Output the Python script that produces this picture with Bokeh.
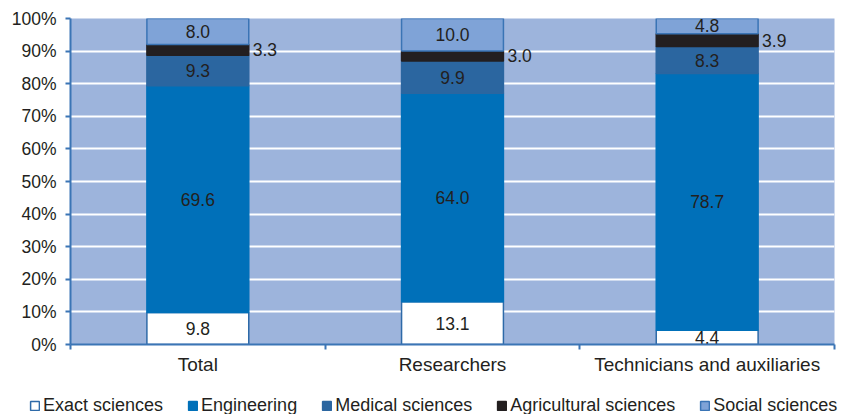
from bokeh.plotting import figure
from bokeh.layouts import column
from bokeh.models import (ColumnDataSource, Range1d, FixedTicker, PrintfTickFormatter,
                          Legend, LegendItem)
from bokeh.core.properties import value
from bokeh.embed import file_html
from bokeh.resources import INLINE

# Staff by field of science, share of each group (%)
categories = ["Total", "Researchers", "Technicians and auxiliaries"]
fields = ["Exact sciences", "Engineering", "Medical sciences",
          "Agricultural sciences", "Social sciences"]
exact = [9.8, 13.1, 4.4]
engineering = [69.6, 64.0, 78.7]
medical = [9.3, 9.9, 8.3]
agricultural = [3.3, 3.0, 3.9]
social = [8.0, 10.0, 4.8]
y_ticks = [0, 10, 20, 30, 40, 50, 60, 70, 80, 90, 100]

series = [exact, engineering, medical, agricultural, social]
keys = ["exact", "engineering", "medical", "agricultural", "social"]
fills = ["#ffffff", "#0070b9", "#2b66a0", "#231f20", "#7fa3d7"]
lines = ["#2e6aa8", "#0070b9", "#2b66a0", "#231f20", "#3a74b5"]

FONT = "Liberation Sans"
TEXT = "#231f20"
AXIS = "#3b75b5"

xs = [i + 0.5 for i in range(len(categories))]
data = {"x": xs}
for k, s in zip(keys, series):
    data[k] = s
src = ColumnDataSource(data)

p = figure(width=841, height=384, output_backend="svg", toolbar_location=None,
           x_range=Range1d(0, len(categories)), y_range=Range1d(0, 100),
           min_border_left=70, min_border_right=7, min_border_top=18,
           min_border_bottom=40)
p.background_fill_color = "#9db4dc"
p.border_fill_color = "white"
p.outline_line_color = None

bar_width = 0.4
renderers = p.vbar_stack(keys, x="x", width=bar_width, source=src,
                         fill_color=fills, line_color=lines, line_width=1.5)

# Value labels: centred inside each segment, agricultural share beside the bar
lx, ly, lt = [], [], []
ax, ay, at = [], [], []
for i, x in enumerate(xs):
    base = 0.0
    for k, s in zip(keys, series):
        v = s[i]
        mid = base + v / 2
        if k == "agricultural":
            ax.append(x + bar_width / 2)
            ay.append(mid)
            at.append(f"{v:.1f}")
        else:
            lx.append(x)
            ly.append(mid)
            lt.append(f"{v:.1f}")
        base += v

p.text(x=lx, y=ly, text=lt, text_align="center", text_baseline="middle",
       text_font=value(FONT), text_font_size="17.5px", text_color=TEXT)
p.text(x=ax, y=ay, text=at, text_align="left", text_baseline="middle",
       x_offset=4, text_font=value(FONT), text_font_size="17.5px", text_color=TEXT)

# Axes
p.xgrid.grid_line_color = None
p.ygrid.grid_line_color = "white"
p.ygrid.grid_line_width = 2
p.ygrid.ticker = FixedTicker(ticks=y_ticks)

p.yaxis.ticker = FixedTicker(ticks=y_ticks)
p.yaxis.formatter = PrintfTickFormatter(format="%d%%")
p.yaxis.axis_line_color = AXIS
p.yaxis.axis_line_width = 2
p.yaxis.major_tick_line_color = AXIS
p.yaxis.major_tick_line_width = 2
p.yaxis.major_tick_out = 5
p.yaxis.major_tick_in = 0
p.yaxis.minor_tick_line_color = None
p.yaxis.major_label_standoff = 9
p.yaxis.major_label_text_font = FONT
p.yaxis.major_label_text_font_size = "17.5px"
p.yaxis.major_label_text_color = TEXT

p.xaxis.ticker = FixedTicker(ticks=xs, minor_ticks=list(range(len(categories) + 1)))
p.xaxis.major_label_overrides = {x: c for x, c in zip(xs, categories)}
p.xaxis.axis_line_color = AXIS
p.xaxis.axis_line_width = 2
p.xaxis.major_tick_line_color = None
p.xaxis.major_tick_out = 0
p.xaxis.minor_tick_line_color = AXIS
p.xaxis.minor_tick_line_width = 2
p.xaxis.minor_tick_out = 5
p.xaxis.minor_tick_in = 0
p.xaxis.major_label_standoff = 4
p.xaxis.major_label_text_font = FONT
p.xaxis.major_label_text_font_size = "19px"
p.xaxis.major_label_text_color = TEXT

# Legend strip underneath the chart; its swatch renderers stay hidden
lf = figure(width=841, height=30, output_backend="svg", toolbar_location=None,
            x_range=Range1d(0, len(categories)), y_range=Range1d(0, 100),
            x_axis_location=None, y_axis_location=None,
            min_border_left=0, min_border_right=0, min_border_top=0,
            min_border_bottom=0)
lf.frame_align = False
lf.grid.grid_line_color = None
lf.outline_line_color = None
lf.background_fill_color = "white"
swatches = lf.vbar_stack(keys, x="x", width=bar_width, source=src,
                         fill_color=fills, line_color=lines, line_width=1.5)
for r in swatches:
    r.visible = False
legend = Legend(items=[LegendItem(label=f, renderers=[r]) for f, r in zip(fields, swatches)],
                orientation="horizontal", location=(29, -2),
                glyph_width=11, glyph_height=11, label_standoff=3, spacing=24,
                padding=0, margin=0, label_text_font=FONT, label_text_font_size="18px",
                label_text_color=TEXT, background_fill_alpha=0, border_line_alpha=0)
lf.add_layout(legend, "center")

page = column(p, lf, spacing=0)
open("out.html", "w").write(file_html(page, INLINE))
